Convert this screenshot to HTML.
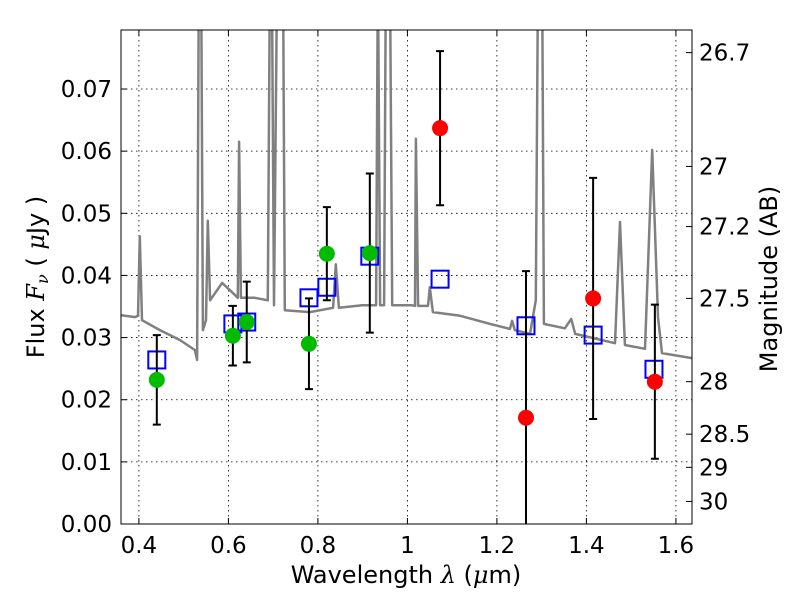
<!DOCTYPE html>
<html><head><meta charset="utf-8"><style>
body{margin:0;background:#fff}
svg{display:block;font-family:"DejaVu Sans","Liberation Sans",sans-serif}
</style></head><body>
<svg id="chart" width="800" height="600" xmlns="http://www.w3.org/2000/svg">
<defs><clipPath id="clip"><rect x="121" y="30" width="571" height="494"/></clipPath></defs>
<rect x="0" y="0" width="800" height="600" fill="#fff"/>
<g id="grid"></g>
<g id="spec" clip-path="url(#clip)"></g>
<g id="marks" clip-path="url(#clip)"></g>
<rect x="121" y="30" width="571" height="494" fill="none" stroke="#000" stroke-width="1"/>
<g id="axes"></g>
<text x="406" y="583" font-size="24" text-anchor="middle">Wavelength  <tspan font-style="italic" font-family="DejaVu Serif,serif">λ</tspan> (<tspan font-style="italic" font-family="DejaVu Serif,serif">μ</tspan>m)</text>
<text transform="translate(44,277) rotate(-90)" font-size="24" text-anchor="middle">Flux  <tspan font-style="italic" font-family="DejaVu Serif,serif">F<tspan font-size="16" dy="4">ν</tspan></tspan><tspan dy="-4">  ( </tspan><tspan font-style="italic" font-family="DejaVu Serif,serif">μ</tspan>Jy )</text>
<text transform="translate(777,279) rotate(-90)" font-size="24" text-anchor="middle">Magnitude (AB)</text>
</svg>
<script>
const specLam=[0.360,0.391,0.398,0.402,0.407,0.447,0.492,0.525,0.530,0.534,0.539,0.543,0.550,0.554,0.559,0.586,0.608,0.621,0.624,0.628,0.659,0.688,0.693,0.697,0.702,0.709,0.722,0.726,0.782,0.834,0.840,0.847,0.899,0.930,0.934,0.939,0.948,0.952,0.961,0.966,1.010,1.017,1.019,1.024,1.046,1.050,1.057,1.118,1.185,1.229,1.234,1.240,1.274,1.287,1.292,1.301,1.305,1.352,1.366,1.375,1.464,1.475,1.486,1.531,1.547,1.560,1.569,1.636];
const specFlux=[0.0336,0.0333,0.0335,0.0463,0.0328,0.0312,0.0296,0.0280,0.0264,0.09,0.09,0.0312,0.0328,0.0488,0.0360,0.0388,0.0373,0.0364,0.0615,0.0364,0.0364,0.0360,0.09,0.09,0.0352,0.09,0.09,0.0344,0.0341,0.0348,0.0418,0.0348,0.0352,0.0352,0.09,0.0352,0.0352,0.09,0.09,0.0352,0.0352,0.0351,0.0620,0.0351,0.0351,0.0381,0.0341,0.0335,0.0322,0.0314,0.0327,0.0312,0.0306,0.0360,0.09,0.09,0.0322,0.0315,0.0330,0.0306,0.0291,0.0486,0.0288,0.0282,0.0602,0.0333,0.0275,0.0267];
const obsLamG=[0.440,0.610,0.641,0.780,0.820,0.916];
const obsFluxG=[0.0232,0.0303,0.0325,0.0290,0.0435,0.0436];
const obsErrG=[0.0072,0.0048,0.0065,0.0073,0.0075,0.0128];
const obsLamR=[1.073,1.265,1.415,1.553];
const obsFluxR=[0.0637,0.0171,0.0363,0.0229];
const obsErrR=[0.0124,0.0236,0.0194,0.0124];
const modLam=[0.440,0.610,0.641,0.780,0.820,0.916,1.073,1.265,1.415,1.551];
const modFlux=[0.0264,0.0322,0.0325,0.0364,0.0381,0.0431,0.0394,0.0319,0.0304,0.0249];
const xTicks=[0.4,0.6,0.8,1.0,1.2,1.4,1.6];
const xTickLabels=["0.4","0.6","0.8","1","1.2","1.4","1.6"];
const yTicks=[0,0.01,0.02,0.03,0.04,0.05,0.06,0.07];
const yTickLabels=["0.00","0.01","0.02","0.03","0.04","0.05","0.06","0.07"];
const magTicks=[26.7,27,27.2,27.5,28,28.5,29,30];
const magTickLabels=["26.7","27","27.2","27.5","28","28.5","29","30"];

const X=l=>121+(l-0.36)*447.5;
const Y=f=>524-f*6214;
const NS="http://www.w3.org/2000/svg";
function mk(tag,parent,at){const e=document.createElementNS(NS,tag);for(const k in at)e.setAttribute(k,at[k]);parent.appendChild(e);return e;}
const grid=document.getElementById('grid'),axes=document.getElementById('axes');
xTicks.forEach((t,i)=>{
 const g=mk('line',grid,{x1:X(t),x2:X(t),y1:30,y2:524,stroke:'#000','stroke-width':0.8,'stroke-dasharray':'1.5,3.5'});
 
 
 mk('line',axes,{x1:X(t),x2:X(t),y1:524,y2:518,stroke:'#000'});
 mk('line',axes,{x1:X(t),x2:X(t),y1:30,y2:36,stroke:'#000'});
 const tx=mk('text',axes,{x:X(t),y:553,'font-size':23,'text-anchor':'middle'});tx.textContent=xTickLabels[i];
 
 
});
yTicks.forEach((t,i)=>{
 if(t>0){const g=mk('line',grid,{x1:121,x2:692,y1:Y(t),y2:Y(t),stroke:'#000','stroke-width':0.8,'stroke-dasharray':'1.5,3.5'});
 
 }
 mk('line',axes,{x1:121,x2:127,y1:Y(t),y2:Y(t),stroke:'#000'});
 const tx=mk('text',axes,{x:112,y:Y(t)+8,'font-size':23,'text-anchor':'end'});tx.textContent=yTickLabels[i];
 
 
});
magTicks.forEach((m,i)=>{
 const f=Math.pow(10,(23.9-m)/2.5);const y=Y(f);
 mk('line',axes,{x1:692,x2:686,y1:y,y2:y,stroke:'#000'});
 const tx=mk('text',axes,{x:699,y:y+8,'font-size':23});tx.textContent=magTickLabels[i];
 
 
});
const spec=document.getElementById('spec');
const p=mk('path',spec,{d:specLam.map((l,i)=>(i?'L':'M')+X(l).toFixed(1)+','+Y(specFlux[i]).toFixed(1)).join(''),fill:'none',stroke:'#808080','stroke-width':2.5,'stroke-linejoin':'round'});


const marks=document.getElementById('marks');
modLam.forEach((l,i)=>{
 const r=mk('rect',marks,{x:X(l)-8.5,y:Y(modFlux[i])-8.5,width:17,height:17,fill:'none',stroke:'#0000ff','stroke-width':2});
 
 
});
function obs(lams,fl,er,col,name){
 lams.forEach((l,i)=>{
  const x=X(l),yt=Y(fl[i]+er[i]),yb=Y(fl[i]-er[i]);
  const eb=mk('path',marks,{d:`M${x},${yt}V${yb}M${x-4},${yt}H${x+4}M${x-4},${yb}H${x+4}`,stroke:'#000','stroke-width':2,fill:'none'});
  
  
  const c=mk('circle',marks,{cx:x,cy:Y(fl[i]),r:8,fill:col});
  
  
 });
}
obs(obsLamG,obsFluxG,obsErrG,'#00bb00','observed-flux-detection');
obs(obsLamR,obsFluxR,obsErrR,'#ff0000','observed-flux-low-sn');
</script>
</body></html>
